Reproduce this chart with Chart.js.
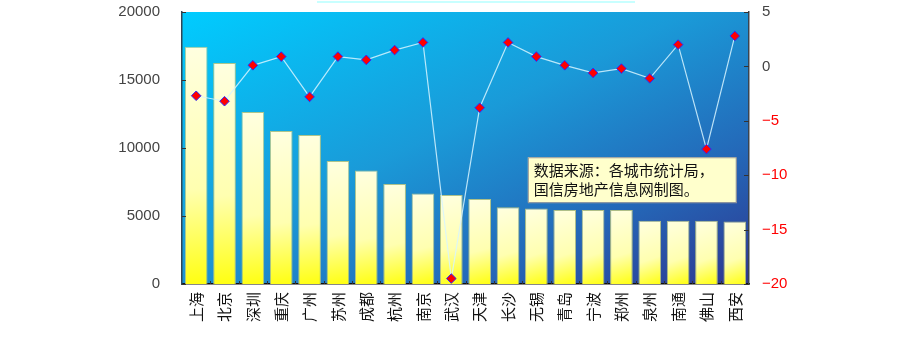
<!DOCTYPE html>
<html lang="zh-CN">
<head>
<meta charset="UTF-8">
<title>主要城市房价及涨幅</title>
<script src="https://cdn.jsdelivr.net/npm/chart.js"></script>
<style>
  html, body { margin: 0; padding: 0; background: #fff; }
  #wrap { width: 922px; height: 342px; }
</style>
</head>
<body>
<div id="wrap"><canvas id="price-chart"></canvas></div>
<script>
// 城市、均价（左轴）、涨跌幅%（右轴）
const cities = ['上海', '北京', '深圳', '重庆', '广州', '苏州', '成都', '杭州', '南京', '武汉',
                '天津', '长沙', '无锡', '青岛', '宁波', '郑州', '泉州', '南通', '佛山', '西安'];
const prices = [17450, 16250, 12650, 11250, 10950, 9050, 8350, 7350, 6650, 6550,
                6250, 5650, 5550, 5450, 5450, 5450, 4650, 4650, 4650, 4600];
const changes = [-2.7, -3.2, 0.1, 0.9, -2.8, 0.9, 0.6, 1.5, 2.2, -19.5,
                 -3.8, 2.2, 0.9, 0.1, -0.6, -0.2, -1.1, 2.0, -7.6, 2.8];
const leftTicks = [0, 5000, 10000, 15000, 20000];
const rightTicks = [-20, -15, -10, -5, 0, 5];
const noteLines = ['数据来源：各城市统计局，', '国信房地产信息网制图。'];

const BAR_PCT = 0.8;

// each bar: pale at top-left, full yellow at bottom-right
function barFill(c) {
  const chart = c.chart;
  if (c.type !== 'data' || !chart.chartArea) return '#ffffa0';
  const x = chart.scales.x, y = chart.scales.y;
  const cx = x.getPixelForValue(c.dataIndex);
  const half = x.width / cities.length * BAR_PCT / 2;
  const g = chart.ctx.createLinearGradient(cx - half, y.getPixelForValue(c.raw), cx + half, y.getPixelForValue(0));
  g.addColorStop(0, '#ffffe0');
  g.addColorStop(0.6, '#ffffb0');
  g.addColorStop(1, '#ffff10');
  return g;
}

const plotBackground = {
  id: 'plotBackground',
  beforeDraw(chart) {
    const { ctx, chartArea: a } = chart;
    const w = a.width, h = a.height;
    // diagonal blend in normalised space: top-right and bottom-left share the middle colour
    const k = 2 * w * h / (w * w + h * h);
    const g = ctx.createLinearGradient(a.left, a.top, a.left + h * k, a.top + w * k);
    g.addColorStop(0, '#00ccff');
    g.addColorStop(0.45, '#1a9ad8');
    g.addColorStop(0.75, '#2468b8');
    g.addColorStop(1, '#2e3690');
    ctx.save();
    ctx.fillStyle = g;
    ctx.fillRect(a.left, a.top, w, h);
    // leftover title rule above the plot
    ctx.strokeStyle = '#c8ffff';
    ctx.lineWidth = 2;
    ctx.beginPath();
    ctx.moveTo(317, 2);
    ctx.lineTo(635, 2);
    ctx.stroke();
    ctx.restore();
  }
};

// short inward tick marks + source note
const axisMarks = {
  id: 'axisMarks',
  afterDraw(chart) {
    const { ctx, chartArea: a, scales } = chart;
    ctx.save();
    ctx.lineWidth = 1;
    ctx.strokeStyle = '#333';
    ctx.beginPath();
    leftTicks.forEach(v => {
      const py = Math.round(scales.y.getPixelForValue(v)) + 0.5;
      ctx.moveTo(a.left, py); ctx.lineTo(a.left + 4, py);
    });
    rightTicks.forEach(v => {
      const py = Math.round(scales.y2.getPixelForValue(v)) + 0.5;
      ctx.moveTo(a.right, py); ctx.lineTo(a.right - 5, py);
    });
    const step = a.width / cities.length;
    for (let i = 1; i < cities.length; i++) {
      const px = Math.round(a.left + step * i) + 0.5;
      ctx.moveTo(px, a.bottom); ctx.lineTo(px, a.bottom - 3);
    }
    ctx.stroke();

    const bx = a.left + a.width * 0.61, by = a.top + a.height * 0.534;
    const bw = 208, bh = 45;
    ctx.fillStyle = '#ffffcc';
    ctx.fillRect(bx, by, bw, bh);
    ctx.strokeStyle = '#9a9a9a';
    ctx.strokeRect(bx + 0.5, by + 0.5, bw, bh);
    ctx.fillStyle = '#111';
    ctx.font = '15px "Noto Sans CJK SC"';
    ctx.textBaseline = 'middle';
    noteLines.forEach((t, i) => ctx.fillText(t, bx + 6, by + 13.5 + i * 19));
    ctx.restore();
  }
};

// keep the plot box fixed regardless of tick label overhang
function noOverhang(s) {
  s.paddingTop = 0;
  s.paddingBottom = 0;
}

new Chart(document.getElementById('price-chart'), {
  data: {
    labels: cities,
    datasets: [
      {
        type: 'line',
        data: changes,
        yAxisID: 'y2',
        order: 0,
        clip: false,
        borderColor: 'rgba(215,245,255,0.85)',
        borderWidth: 1.2,
        tension: 0,
        pointStyle: 'rectRot',
        pointRadius: 4.8,
        pointBackgroundColor: '#ff0000',
        pointBorderColor: '#2a2aff',
        pointBorderWidth: 1
      },
      {
        type: 'bar',
        data: prices,
        yAxisID: 'y',
        order: 1,
        backgroundColor: barFill,
        borderColor: 'rgba(190,200,130,0.9)',
        borderWidth: 1,
        barPercentage: BAR_PCT,
        categoryPercentage: 1
      }
    ]
  },
  options: {
    responsive: true,
    maintainAspectRatio: false,
    devicePixelRatio: 1,
    animation: false,
    layout: { padding: { top: 12, left: 0, right: 0, bottom: 0 } },
    plugins: { legend: { display: false }, tooltip: { enabled: false } },
    scales: {
      x: {
        offset: true,
        grid: { display: false, drawTicks: false },
        border: { color: '#111', width: 1.5 },
        ticks: {
          color: '#111',
          font: { family: '"Noto Sans CJK SC"', size: 15 },
          minRotation: 90,
          maxRotation: 90,
          padding: 8,
          autoSkip: false
        },
        afterFit(s) { s.height = 58; s.paddingLeft = 0; s.paddingRight = 0; }
      },
      y: {
        position: 'left',
        min: 0,
        max: 20000,
        grid: { display: false, drawTicks: false },
        border: { color: '#2f4656', width: 1.5 },
        afterBuildTicks(s) { s.ticks = leftTicks.map(v => ({ value: v })); },
        ticks: {
          color: '#444',
          font: { family: '"Liberation Sans"', size: 15 },
          padding: 22,
          callback: v => String(v)
        },
        afterFit(s) { s.width = 182; noOverhang(s); }
      },
      y2: {
        position: 'right',
        min: -20,
        max: 5,
        grid: { display: false, drawTicks: false },
        border: { color: '#3a4450', width: 1.5 },
        afterBuildTicks(s) { s.ticks = rightTicks.map(v => ({ value: v })); },
        ticks: {
          color: c => (c.tick && c.tick.value < 0 ? '#ff0000' : '#444'),
          font: { family: '"Liberation Sans"', size: 15 },
          padding: 13,
          callback: v => (v < 0 ? '\u2212' + Math.abs(v) : String(v))
        },
        afterFit(s) { s.width = 173; noOverhang(s); }
      }
    }
  },
  plugins: [plotBackground, axisMarks]
});
</script>
</body>
</html>
